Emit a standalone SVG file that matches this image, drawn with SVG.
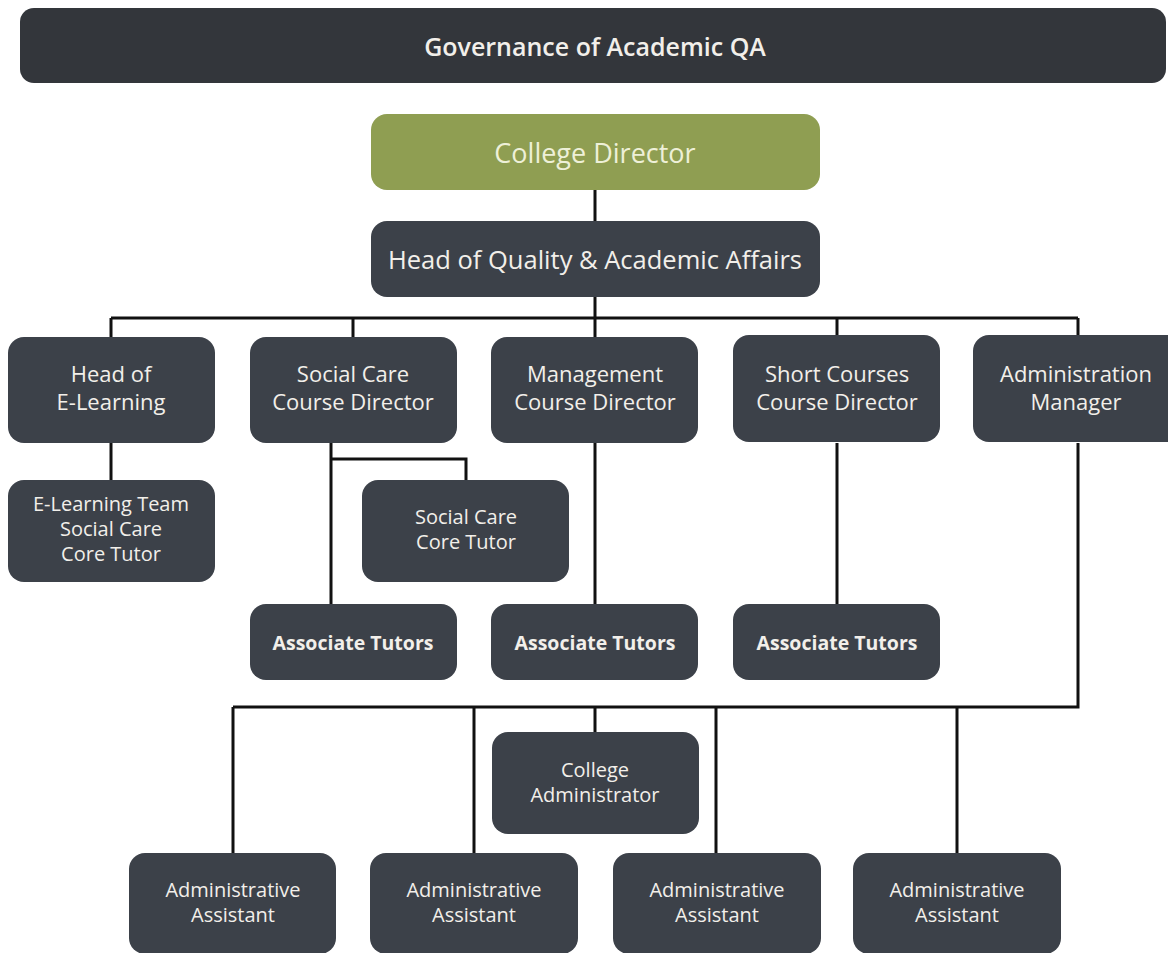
<svg xmlns="http://www.w3.org/2000/svg" width="1168" height="953" viewBox="0 0 1168 953">
<style>
.box{fill:#3c4149}
.t{font-family:"Open Sans","Noto Sans",sans-serif;fill:#f2efea;text-anchor:middle}
.r1{font-size:22px}
.s{font-size:20px}
.b{font-size:19.5px;font-weight:700}
.c{stroke:#111;stroke-width:3;fill:none}
</style>
<rect width="1168" height="953" fill="#fff"/>
<g id="title">
<rect x="20" y="8" width="1146" height="75" rx="14" fill="#33363b"/>
<text class="t" x="595" y="56" font-size="25" font-weight="600">Governance of Academic QA</text>
</g>
<g id="connectors">
<path class="c" d="M595 189V221M595 296V318M111 318H1078M111 318V337M353 318V337M595 318V337M837 318V337M1078 318V337"/>
<path class="c" d="M111 443V480M331 443V604M331 459H466V480M595 443V604M837 443V604"/>
<path class="c" d="M1078 443V707H233M233 707V853M474 707V853M595 707V732M716 707V853M957 707V853"/>
</g>
<g id="college-director">
<rect x="371" y="114" width="449" height="76" rx="16" fill="#8f9e52"/>
<text class="t" x="595" y="163" font-size="27" style="fill:#eef0d8">College Director</text>
</g>
<g id="head-quality">
<rect class="box" x="371" y="221" width="449" height="76" rx="16"/>
<text class="t" x="595" y="269" font-size="25.5">Head of Quality &amp; Academic Affairs</text>
</g>
<g id="head-elearning">
<rect class="box" x="8" y="337" width="207" height="106" rx="16"/>
<text class="t r1" x="111" y="382">Head of</text>
<text class="t r1" x="111" y="410">E-Learning</text>
</g>
<g id="social-care-director">
<rect class="box" x="250" y="337" width="207" height="106" rx="16"/>
<text class="t r1" x="353" y="382">Social Care</text>
<text class="t r1" x="353" y="410">Course Director</text>
</g>
<g id="management-director">
<rect class="box" x="491" y="337" width="207" height="106" rx="16"/>
<text class="t r1" x="595" y="382">Management</text>
<text class="t r1" x="595" y="410">Course Director</text>
</g>
<g id="short-courses-director">
<rect class="box" x="733" y="335" width="207" height="107" rx="16"/>
<text class="t r1" x="837" y="382">Short Courses</text>
<text class="t r1" x="837" y="410">Course Director</text>
</g>
<g id="admin-manager">
<rect class="box" x="973" y="335" width="212" height="107" rx="16"/>
<text class="t r1" x="1076" y="382">Administration</text>
<text class="t r1" x="1076" y="410">Manager</text>
</g>
<g id="elearning-team">
<rect class="box" x="8" y="480" width="207" height="102" rx="16"/>
<text class="t s" x="111" y="511">E-Learning Team</text>
<text class="t s" x="111" y="536">Social Care</text>
<text class="t s" x="111" y="561">Core Tutor</text>
</g>
<g id="social-care-tutor">
<rect class="box" x="362" y="480" width="207" height="102" rx="16"/>
<text class="t s" x="466" y="524">Social Care</text>
<text class="t s" x="466" y="549">Core Tutor</text>
</g>
<g id="associate-tutors-1">
<rect class="box" x="250" y="604" width="207" height="76" rx="16"/>
<text class="t b" x="353" y="650">Associate Tutors</text>
</g>
<g id="associate-tutors-2">
<rect class="box" x="491" y="604" width="207" height="76" rx="16"/>
<text class="t b" x="595" y="650">Associate Tutors</text>
</g>
<g id="associate-tutors-3">
<rect class="box" x="733" y="604" width="207" height="76" rx="16"/>
<text class="t b" x="837" y="650">Associate Tutors</text>
</g>
<g id="college-administrator">
<rect class="box" x="492" y="732" width="207" height="102" rx="16"/>
<text class="t s" x="595" y="777">College</text>
<text class="t s" x="595" y="802">Administrator</text>
</g>
<g id="admin-assistant-1">
<rect class="box" x="129" y="853" width="207" height="101" rx="16"/>
<text class="t s" x="233" y="897">Administrative</text>
<text class="t s" x="233" y="922">Assistant</text>
</g>
<g id="admin-assistant-2">
<rect class="box" x="370" y="853" width="208" height="101" rx="16"/>
<text class="t s" x="474" y="897">Administrative</text>
<text class="t s" x="474" y="922">Assistant</text>
</g>
<g id="admin-assistant-3">
<rect class="box" x="613" y="853" width="208" height="101" rx="16"/>
<text class="t s" x="717" y="897">Administrative</text>
<text class="t s" x="717" y="922">Assistant</text>
</g>
<g id="admin-assistant-4">
<rect class="box" x="853" y="853" width="208" height="101" rx="16"/>
<text class="t s" x="957" y="897">Administrative</text>
<text class="t s" x="957" y="922">Assistant</text>
</g>
</svg>
